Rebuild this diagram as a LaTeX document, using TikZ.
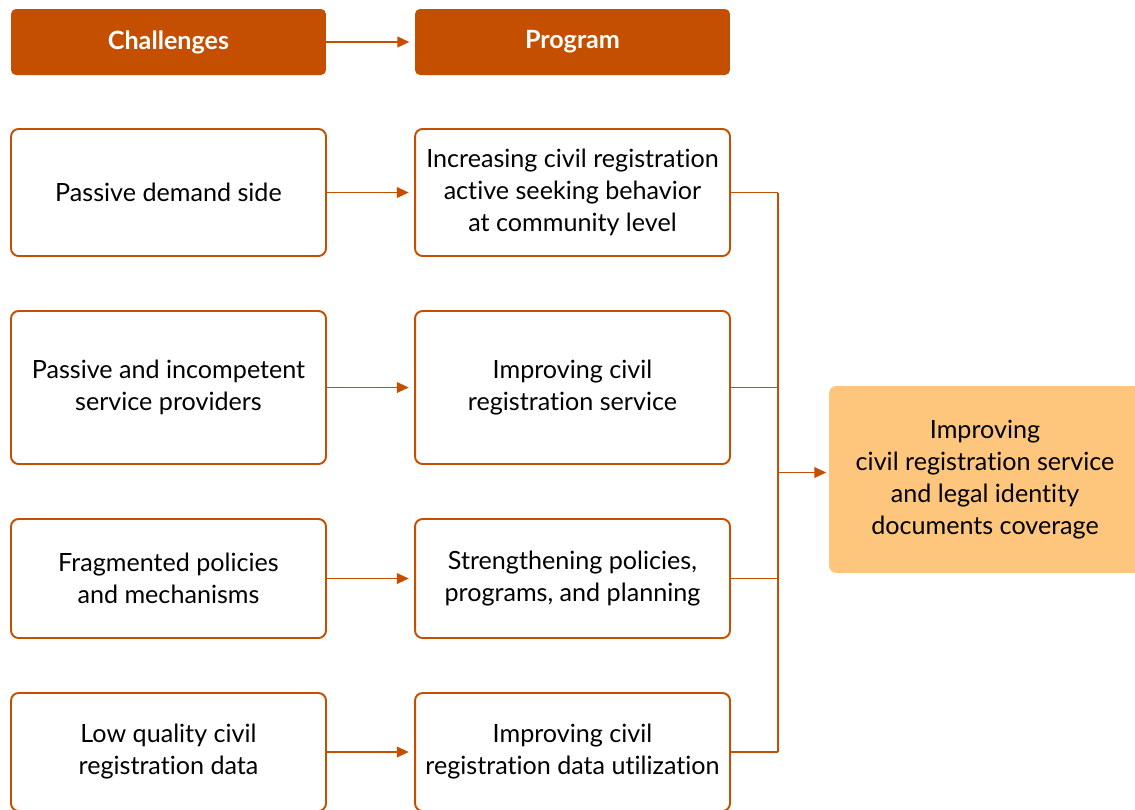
\documentclass[tikz,border=0pt]{standalone}
\usepackage{fontspec}
\setmainfont{Lato}[Ligatures=NoCommon]
\usetikzlibrary{arrows.meta}
\definecolor{rust}{HTML}{C44F00}
\definecolor{sand}{HTML}{FDC67C}

\begin{document}
\begin{tikzpicture}[x=0.02cm, y=-0.02cm, font=\fontsize{14.3}{18.2}\selectfont,
    box/.style={draw=rust, line width=1.1pt, rounded corners=0.15cm, minimum width=6.3cm, align=center, fill=white, inner sep=0pt},
    head/.style={fill=rust, rounded corners=0.1cm, minimum width=6.3cm, minimum height=1.32cm, text=white, font=\fontsize{14.3}{18.2}\selectfont\bfseries},
    link/.style={draw=rust, line width=1.1pt},
    >={Triangle[length=6.8pt, width=6pt]}]
    \useasboundingbox (0, 0) rectangle (1135, 809);

    \node (challenges) [head] at (168.5, 42) {Challenges};
    \node (program) [head] at (572.5, 42) {Program};

    \node (c1) [box, minimum height=2.54cm] at (168.5, 192.5) {Passive demand side};
    \node (c2) [box, minimum height=3.06cm] at (168.5, 387.5) {Passive and incompetent\\service providers};
    \node (c3) [box, minimum height=2.38cm] at (168.5, 578.5) {Fragmented policies\\and mechanisms};
    \node (c4) [box, minimum height=2.36cm] at (168.5, 752) {Low quality civil\\registration data};

    \node (p1) [box, minimum height=2.54cm] at (572.5, 192.5) {Increasing civil registration\\active seeking behavior\\at community level};
    \node (p2) [box, minimum height=3.06cm] at (572.5, 387.5) {Improving civil\\registration service};
    \node (p3) [box, minimum height=2.38cm] at (572.5, 578.5) {Strengthening policies,\\programs, and planning};
    \node (p4) [box, minimum height=2.36cm] at (572.5, 752) {Improving civil\\registration data utilization};

    \node (goal) [box, draw=none, fill=sand, minimum width=6.24cm, minimum height=3.74cm] at (985, 479.5) {Improving\\civil registration service\\and legal identity\\documents coverage};

    \coordinate (join) at (778, 472.5);

    \draw[link, ->, shorten >=3pt] (challenges) -- (program);
    \foreach \i in {1, 2, 3, 4} {
        \draw[link, ->, shorten >=3pt] (c\i) -- (p\i);
        \draw[link] (p\i.east) -- (p\i.east -| join);
    }
    \draw[link] (p1.east -| join) -- (p4.east -| join);
    \draw[link, ->, shorten >=1pt] (join) -- (join -| goal.west);
\end{tikzpicture}
\end{document}
